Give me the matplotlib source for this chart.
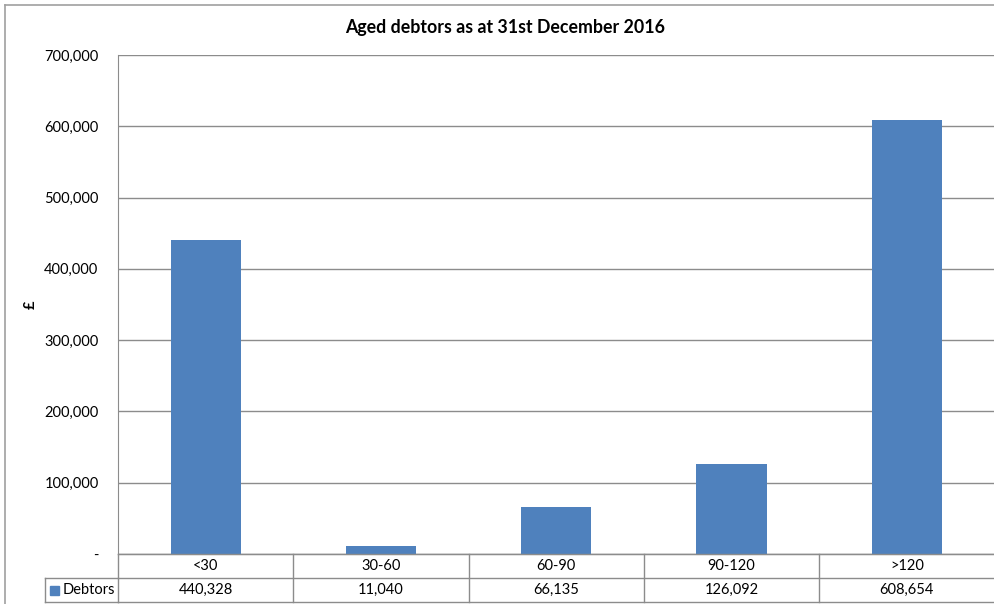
import matplotlib
matplotlib.use("Agg")
import matplotlib.pyplot as plt
from matplotlib.patches import Rectangle
from matplotlib.lines import Line2D

categories = ["<30", "30-60", "60-90", "90-120", ">120"]
debtors = [440328, 11040, 66135, 126092, 608654]
yticks = [0, 100000, 200000, 300000, 400000, 500000, 600000, 700000]
ytick_labels = ["-", "100,000", "200,000", "300,000", "400,000", "500,000", "600,000", "700,000"]
series_name = "Debtors"
title = "Aged debtors as at 31st December 2016"
ylabel = "£"

plt.rcParams['font.family'] = ['Lato', 'DejaVu Sans']

W, H = 994, 604
fig = plt.figure(figsize=(W / 100, H / 100), dpi=100)

def fx(px):
    return px / W

def fy(py):
    return 1 - py / H

bar_color = "#4F81BD"
grid_color = "#8C8C8C"

left, right, top, bottom = 118, 994.5, 55, 554
ax = fig.add_axes([fx(left), fy(bottom), fx(right - left), (bottom - top) / H])

x = list(range(len(categories)))
ax.bar(x, debtors, width=0.4, color=bar_color, zorder=3)
ax.set_xlim(-0.5, len(categories) - 0.5)
ax.set_ylim(0, 700000)
ax.set_yticks(yticks)
ax.set_yticklabels(ytick_labels, fontsize=10.5)
ax.tick_params(axis='y', length=0, pad=14)
ax.set_xticks([])
ax.grid(axis='y', color=grid_color, linewidth=1, zorder=0)
for s in ["top", "right"]:
    ax.spines[s].set_visible(False)
ax.spines["left"].set_color(grid_color)
ax.spines["bottom"].set_color(grid_color)
ax.set_axisbelow(True)

fig.text(fx(31), fy(305), ylabel, rotation=90, ha='center', va='center', fontsize=10.5, fontweight='bold')

# data table
row_h = 24
tab_top = bottom
tab_bot = bottom + 2 * row_h
tax = fig.add_axes([fx(left), fy(tab_bot), fx(right - left), (tab_bot - tab_top) / H])
tax.set_xlim(-0.5, len(categories) - 0.5)
tax.set_ylim(2, 0)
tax.axis('off')
lw = 1
for i in range(len(categories)):
    tax.plot([i - 0.5, i - 0.5], [0, 2], color=grid_color, lw=lw, clip_on=False)
for r in [0, 1, 2]:
    tax.plot([-0.5, len(categories) - 0.5], [r, r], color=grid_color, lw=lw, clip_on=False)
for i, (c, v) in enumerate(zip(categories, debtors)):
    tax.text(i, 0.5, c, ha='center', va='center', fontsize=10.5)
    tax.text(i, 1.5, f"{v:,}", ha='center', va='center', fontsize=10.5)

# legend cell (left of table)
leg_left = 45
fig.add_artist(Line2D([fx(leg_left), fx(left)], [fy(tab_top + row_h), fy(tab_top + row_h)], color=grid_color, lw=lw))
fig.add_artist(Line2D([fx(leg_left), fx(left)], [fy(tab_bot), fy(tab_bot)], color=grid_color, lw=lw))
fig.add_artist(Line2D([fx(leg_left), fx(leg_left)], [fy(tab_top + row_h), fy(tab_bot)], color=grid_color, lw=lw))
fig.add_artist(Rectangle((fx(50), fy(595)), fx(9), 9 / H, color=bar_color, transform=fig.transFigure))
fig.text(fx(63), fy(590), series_name, ha='left', va='center', fontsize=10.5)

# title
fig.text(fx(505), fy(28), title, ha='center', va='center', fontsize=12.8, fontweight='bold')

# chart border (top and left edges visible only)
fig.add_artist(Line2D([fx(5), 1.0], [fy(5), fy(5)], color="#A0A0A0", lw=1.2))
fig.add_artist(Line2D([fx(5), fx(5)], [fy(5), 0.0], color="#A0A0A0", lw=1.2))

fig.savefig("out.png", dpi=100)
